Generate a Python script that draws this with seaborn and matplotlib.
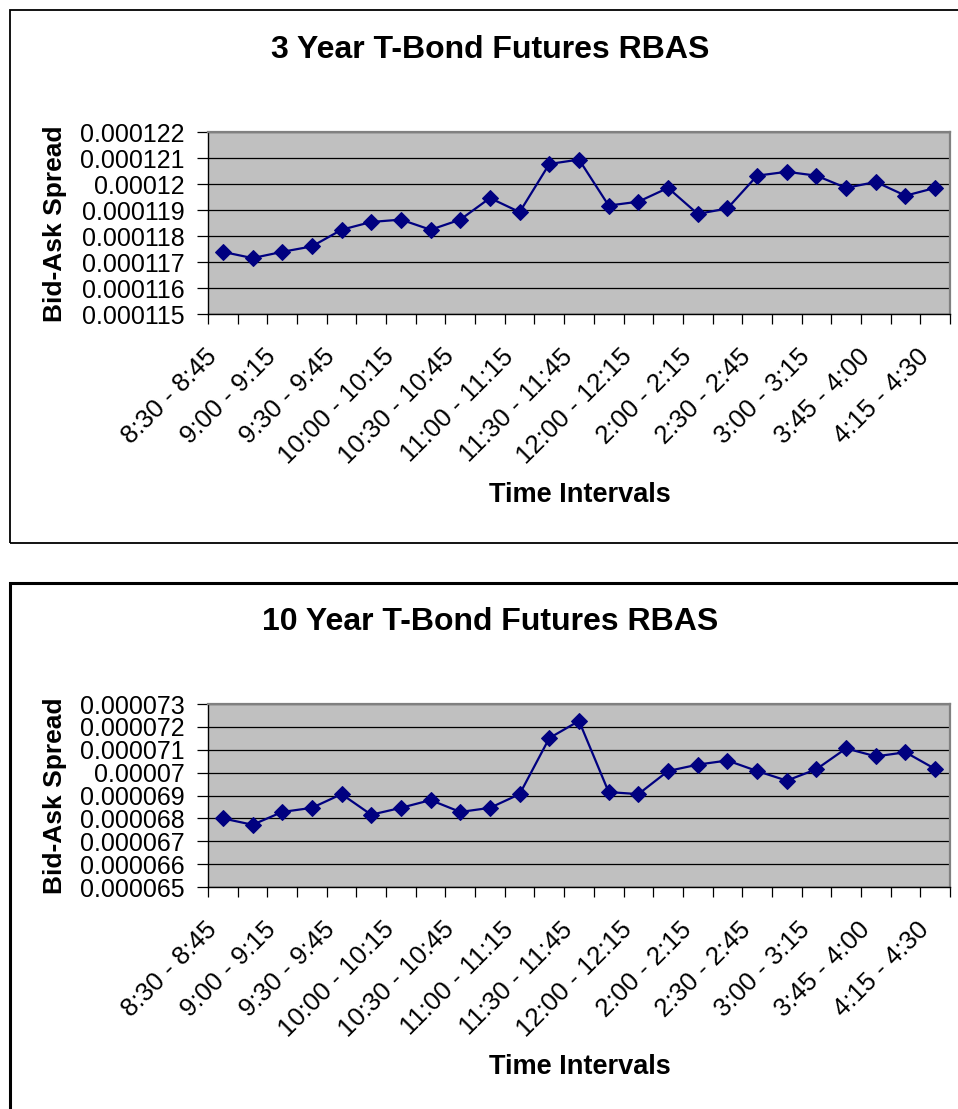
import numpy as np
import pandas as pd
import matplotlib
matplotlib.use("Agg")
import matplotlib.pyplot as plt
from matplotlib.patches import Rectangle
from matplotlib.ticker import FixedLocator, FuncFormatter
from matplotlib.transforms import ScaledTranslation
import seaborn as sns

# ---- data -------------------------------------------------------------
intervals = [
    "8:30 - 8:45", "8:45 - 9:00", "9:00 - 9:15", "9:15 - 9:30",
    "9:30 - 9:45", "9:45 - 10:00", "10:00 - 10:15", "10:15 - 10:30",
    "10:30 - 10:45", "10:45 - 11:00", "11:00 - 11:15", "11:15 - 11:30",
    "11:30 - 11:45", "11:45 - 12:00", "12:00 - 12:15", "12:15 - 2:00",
    "2:00 - 2:15", "2:15 - 2:30", "2:30 - 2:45", "2:45 - 3:00",
    "3:00 - 3:15", "3:15 - 3:45", "3:45 - 4:00", "4:00 - 4:15",
    "4:15 - 4:30",
]

rbas_3yr = [
    0.00011739, 0.00011715, 0.00011739, 0.00011760, 0.00011824,
    0.00011854, 0.00011863, 0.00011824, 0.00011863, 0.00011946,
    0.00011892, 0.00012077, 0.00012094, 0.00011917, 0.00011932,
    0.00011985, 0.00011885, 0.00011906, 0.00012032, 0.00012047,
    0.00012032, 0.00011985, 0.00012008, 0.00011955, 0.00011985,
]

rbas_10yr = [
    0.00006800, 0.00006772, 0.00006828, 0.00006846, 0.00006906,
    0.00006816, 0.00006846, 0.00006880, 0.00006828, 0.00006846,
    0.00006906, 0.00007151, 0.00007226, 0.00006915, 0.00006906,
    0.00007007, 0.00007035, 0.00007053, 0.00007007, 0.00006965,
    0.00007015, 0.00007106, 0.00007071, 0.00007089, 0.00007016,
]

yticks_3yr = [0.000115, 0.000116, 0.000117, 0.000118, 0.000119,
              0.000120, 0.000121, 0.000122]
yticks_10yr = [0.000065, 0.000066, 0.000067, 0.000068, 0.000069,
               0.000070, 0.000071, 0.000072, 0.000073]

titles = ["3 Year T-Bond Futures RBAS", "10 Year T-Bond Futures RBAS"]
y_title = "Bid-Ask Spread"
x_title = "Time Intervals"

# ---- style ------------------------------------------------------------
sns.set_theme(style="white")
plt.rcParams["font.family"] = ["Liberation Sans", "DejaVu Sans"]
for key in ("text.color", "axes.labelcolor", "xtick.color", "ytick.color"):
    plt.rcParams[key] = "black"

W, H = 958, 1109
fig = plt.figure(figsize=(W / 100, H / 100), dpi=100)
fig.patch.set_facecolor("white")

NAVY = "#000080"
PLOT_BG = "#C0C0C0"


def px_axes(left, top, right, bottom):
    return [left / W, 1 - bottom / H, (right - left) / W, (bottom - top) / H]


def general_fmt(v, _pos=None):
    # spreadsheet "General" number style: no trailing zeros
    return f"{v:.6f}".rstrip("0").rstrip(".")


panels = [
    dict(vals=rbas_3yr, ticks=yticks_3yr, title=titles[0],
         box=(10, 10, 1000, 543), area=(208, 132, 950, 314),
         title_y=50, ylab_y=224, xlab_y=495),
    dict(vals=rbas_10yr, ticks=yticks_10yr, title=titles[1],
         box=(10, 583, 1000, 1140), area=(208, 704, 950, 887),
         title_y=622, ylab_y=796, xlab_y=1067),
]

for i, p in enumerate(panels):
    # outer chart frame
    bl, bt, br, bb = p["box"]
    fig.patches.append(Rectangle((bl / W, 1 - bb / H), (br - bl) / W, (bb - bt) / H,
                                 transform=fig.transFigure, fill=False,
                                 edgecolor="black", linewidth=1.3 if i == 0 else 2.2,
                                 zorder=0))

    ax = fig.add_axes(px_axes(*p["area"]))
    ax.set_facecolor(PLOT_BG)

    df = pd.DataFrame({"pos": np.arange(len(intervals)), "spread": p["vals"]})
    sns.lineplot(data=df, x="pos", y="spread", ax=ax, color=NAVY,
                 linewidth=1.6, marker="D", markersize=8,
                 markeredgecolor=NAVY, markerfacecolor=NAVY, zorder=3)

    ax.set_xlim(-0.5, len(intervals) - 0.5)
    ax.set_ylim(p["ticks"][0], p["ticks"][-1])

    # horizontal gridlines
    ax.yaxis.set_major_locator(FixedLocator(p["ticks"]))
    ax.yaxis.set_major_formatter(FuncFormatter(general_fmt))
    ax.grid(axis="y", color="black", linewidth=0.9)
    ax.grid(axis="x", visible=False)
    ax.set_axisbelow(True)

    # category axis: ticks between categories, labels on every other one
    ax.set_xticks(np.arange(-0.5, len(intervals), 1.0), minor=True)
    ax.set_xticks(np.arange(0, len(intervals), 2))
    ax.set_xticklabels([intervals[k] for k in range(0, len(intervals), 2)],
                       rotation=45, ha="right", va="center",
                       rotation_mode="anchor", fontsize=18.5)
    ax.tick_params(axis="x", which="major", length=0, pad=28)
    ax.tick_params(axis="x", which="minor", length=7.5, width=0.9,
                   color="black", direction="out", bottom=True)
    ax.tick_params(axis="y", which="major", length=8, width=0.9,
                   color="black", direction="out", left=True, pad=9,
                   labelsize=18)
    shift = ScaledTranslation(-10 / 100, 0, fig.dpi_scale_trans)
    for lab in ax.get_xticklabels():
        lab.set_transform(lab.get_transform() + shift)

    for side in ("left", "bottom"):
        ax.spines[side].set_color("black")
        ax.spines[side].set_linewidth(1.0)
    for side in ("top", "right"):
        ax.spines[side].set_color("#808080")
        ax.spines[side].set_linewidth(1.6)

    ax.set_xlabel("")
    ax.set_ylabel("")

    fig.text(490 / W, 1 - p["title_y"] / H, p["title"], ha="center", va="center",
             fontsize=23, fontweight="bold")
    fig.text(55 / W, 1 - p["ylab_y"] / H, y_title, ha="center", va="center",
             rotation=90, fontsize=19, fontweight="bold")
    fig.text(580 / W, 1 - p["xlab_y"] / H, x_title, ha="center", va="center",
             fontsize=19.5, fontweight="bold")

fig.savefig("out.png", dpi=100, facecolor="white")
